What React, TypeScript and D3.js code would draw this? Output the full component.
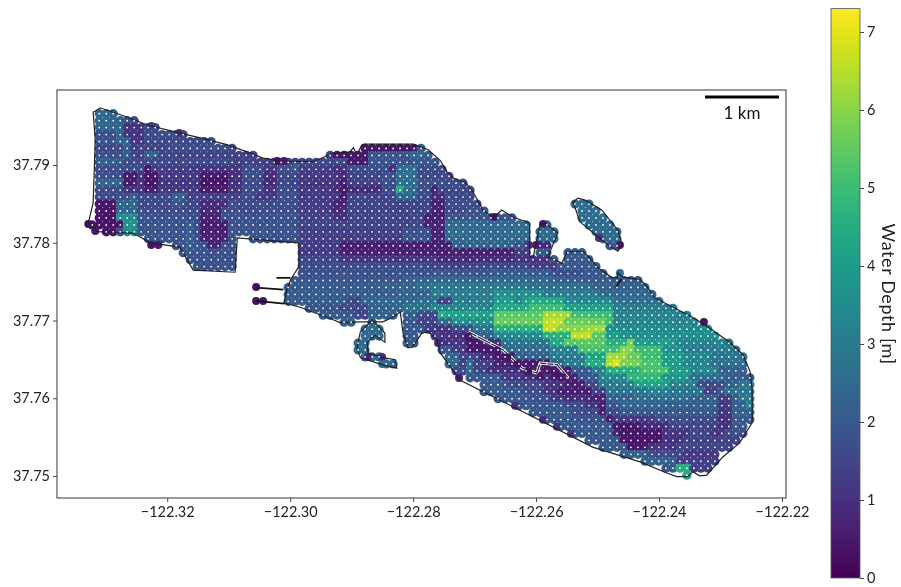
// App.tsx - water depth map with soundings grid and colorbar
import React, { useEffect, useRef } from 'react'
import * as d3 from 'd3'

const lonTicks = [-122.32, -122.30, -122.28, -122.26, -122.24, -122.22]
const latTicks = [37.75, 37.76, 37.77, 37.78, 37.79]
const depthTicks = [0, 1, 2, 3, 4, 5, 6, 7]
const maxDepth = 7.3

// sounding grid, about 100 m spacing
const gridLon0 = -122.33106
const gridLat0 = 37.7966
const gridDLon = 0.001138
const gridDLat = 0.000894
// the table below and the shorelines share a slightly different origin
const tableLon0 = -122.33171
const tableLat0 = 37.79682
const tableDLat = 0.0009
const colShift = 0.57

// one row per grid line going south: [startCol, depth, startCol, depth, ..., endCol]
const depthRows: number[][] = [
  [0, 2.4, 5],
  [0, 2.4, 3, 2.3, 4, 1.8, 10],
  [0, 2.4, 4, 1.1, 7, 1.7, 12],
  [0, 1.8, 3, 2.4, 4, 1.1, 7, 1.7, 14, 1.6, 16],
  [0, 1.8, 3, 2.4, 5, 1.1, 7, 1.6, 18],
  [0, 1.6, 4, 2.2, 5, 1.3, 6, 1.5, 10, 1.7, 38, 0.4, 46.5, 2, 50],
  [0, 1.7, 4, 2.3, 5, 1.5, 6, 1.2, 7, 2.3, 9, 1.5, 13, 1.4, 34, 0.4, 38.6, 1.9, 45, 2.5, 47, 2, 50],
  [0, 2.2, 4, 1.6, 20, 1.4, 28, 1.6, 36, 0.5, 39, 1.9, 49, 2, 52],
  [0, 1.7, 7, 0.5, 8, 1.3, 14, 1.1, 21, 1.7, 24, 1.2, 26, 1.7, 28, 2.1, 29, 1.3, 34, 1, 36, 1.7, 42, 0.9, 43, 2.6, 46, 1.7, 50],
  [0, 1.7, 4, 0.5, 6, 1.1, 7, 0.4, 9, 1.2, 15, 0.5, 19, 1, 21, 1.7, 24, 0.9, 26, 1.6, 29, 1.2, 34, 1.1, 35, 0.8, 36, 1.5, 41, 1.8, 43, 2.6, 46, 1.6, 52],
  [0, 2.4, 4, 0.5, 6, 1.1, 7, 0.4, 9, 1.1, 15, 0.4, 19, 1, 21, 1.6, 24, 0.8, 26, 1.5, 29, 1.1, 35, 0.6, 36, 1.4, 41, 1.7, 43, 2.6, 46, 1.7, 54],
  [0, 1.6, 4, 1.1, 7, 0.6, 9, 1.2, 15, 0.6, 19, 1.1, 21, 1.7, 24, 1.1, 26, 1.7, 29, 1.2, 34, 0.9, 35, 0.5, 36, 0.9, 41, 1.7, 43, 4.6, 44, 2.6, 46, 1.7, 48, 0.7, 49, 1.6, 55],
  [0, 1.7, 5, 2.3, 6, 1.6, 11, 2.3, 13, 1.4, 21, 1.7, 23, 1.2, 26, 1.8, 29, 1.2, 35, 0.6, 36, 1.5, 43, 2.4, 46, 1.7, 48, 0.9, 50, 1.6, 57],
  [0, 0.45, 3, 2.4, 6, 1.6, 11, 1.9, 13, 1.6, 15, 0.9, 19, 1.7, 29, 1.3, 34, 0.7, 36, 1.5, 48, 0.7, 50, 1.7, 60, 2.6, 76],
  [0, 0.4, 3, 2.4, 6, 1.7, 15, 0.8, 18.5, 1.7, 29, 1.3, 34, 0.8, 36, 1.5, 48, 0.7, 50, 1.6, 53, 1.9, 62, 2.6, 76],
  [0, 0.4, 3, 3.6, 6, 1.8, 15, 0.7, 18.5, 1.8, 29, 1.4, 34, 1, 36, 1.5, 47, 0.6, 50, 1.9, 64, 2.6, 76],
  [-1, 0.4, 4, 3.8, 6, 1.8, 13, 2.2, 14, 1.7, 15, 0.6, 19, 1.8, 29, 1.5, 47, 0.7, 50, 2.5, 76],
  [0, 0.45, 3, 1.8, 4, 3.6, 6, 1.9, 13, 2.2, 14, 1.7, 15, 0.6, 19, 1.9, 29, 1.4, 44, 1.8, 48, 0.7, 50, 2.5, 76],
  [0, 1.9, 13, 2.2, 14, 1.8, 15, 0.7, 19, 1.8, 29, 1.3, 44, 1.9, 48, 0.7, 50, 2.5, 76],
  [0, 1.9, 13, 2.2, 14, 1.9, 16, 0.7, 18.5, 1.8, 29, 1.3, 35, 0.6, 51, 2.3, 60, 1.9, 62, 0.8, 65, 2, 76],
  [0, 1.9, 16, 1.8, 29, 1.2, 35, 0.6, 60, 1.3, 62, 2.1, 70],
  [0, 1.8, 29, 1.5, 35, 1.1, 49, 0.9, 60, 1.1, 65, 2, 72],
  [0, 1.8, 29, 1.7, 48, 1.4, 54, 1.6, 62, 1.3, 66, 2, 74],
  [29, 1.8, 48, 1.9, 56, 2.1, 65, 1.7, 70, 2, 76],
  [27, 1.9, 44, 2.2, 48, 2.4, 65, 2.1, 70, 2, 78],
  [27, 2, 41, 2.3, 46, 2.6, 48, 2.9, 62, 2.6, 71, 2.2, 80],
  [27, 2.1, 43, 2.3, 48, 3, 57.5, 3.6, 64, 3, 72, 2.4, 84],
  [27, 2.1, 36, 1.5, 38, 2.4, 46, 2.7, 49, 1.5, 51, 3, 57.5, 4, 60, 3.2, 61, 4.1, 62, 4.4, 67, 3.4, 74, 2.6, 86],
  [27, 1.9, 35, 1.6, 39, 2.3, 44, 2.8, 48, 3.4, 57, 4.4, 62, 5, 67, 4.2, 74, 3, 90],
  [30, 2, 37, 1.5, 39, 2.2, 46, 1.6, 49, 4.6, 50, 4.2, 57, 5.4, 64, 6.3, 68, 5, 74, 3.2, 90],
  [35, 2.3, 44, 2, 46, 1.4, 49, 2.5, 51, 3.6, 57, 5.6, 64.5, 6.6, 67.5, 5.6, 73, 5, 74, 3.3, 92],
  [37, 2.5, 44, 2, 47, 1.2, 49, 1.1, 51, 1.7, 54, 2.8, 57, 4.6, 64, 6.6, 66, 6, 70, 6.2, 73, 3.5, 93],
  [37, 2.5, 44, 2, 47, 1.3, 49, 1.1, 54, 2.2, 57.5, 3.4, 64, 4.6, 68.5, 6.6, 71, 5.4, 73, 4, 75.5, 3.6, 94],
  [37, 2.5, 44, 2, 48, 1.2, 49, 1.1, 53, 0.5, 55, 0.9, 58, 2.8, 65.5, 4.4, 67, 5.4, 73, 4.6, 76, 5.8, 77, 4, 83, 3.2, 90, 2.8, 94],
  [37, 2.5, 45, 2, 51.5, 1.3, 53, 0.5, 58, 2.5, 65.5, 3.2, 69, 5.2, 72.6, 5, 75.5, 6, 77, 5, 80.7, 3.6, 83.6, 3, 91, 2.8, 94],
  [37, 2.5, 49, 2.4, 52, 1.5, 55, 0.9, 57.5, 0.5, 60, 2.2, 65, 3, 70.5, 4.2, 72.6, 6.3, 76, 5.6, 78.3, 5, 80.7, 4, 83.6, 3.4, 88, 2.8, 94],
  [40, 2.5, 50.5, 2.5, 52, 1.3, 53.5, 2.6, 54.5, 1.4, 57, 0.7, 60, 0.5, 65, 2.2, 67, 3, 70.3, 4.5, 73, 6.5, 74.5, 7, 75.5, 5.8, 78.3, 5.2, 80.7, 4, 83.6, 3.2, 88, 2.6, 94],
  [51, 1.6, 53, 2.6, 54.5, 1.5, 56.5, 1, 61, 0.6, 68, 2, 71, 3, 72.6, 4.6, 78, 5.2, 81.7, 4, 85.5, 3.4, 89.3, 2.2, 94],
  [53, 2, 58, 1.3, 60.7, 1, 65.5, 0.7, 69.5, 2, 71.7, 3.4, 76.5, 4.8, 81.2, 3.8, 85.5, 2.6, 90.5, 2, 94],
  [55, 2, 59, 1.6, 63.6, 1.1, 67, 0.6, 70, 1.6, 71.7, 3, 77.4, 4.2, 81.7, 3.2, 86.5, 1.6, 90.3, 2.2, 91.7, 2.9, 94],
  [55, 2, 61, 1.7, 64.5, 1.1, 66.4, 0.6, 71, 1.4, 72.6, 2.8, 79, 3.2, 82, 2.8, 87, 1.4, 89.3, 2, 90.3, 2.8, 94],
  [57, 2, 62, 1.8, 65.5, 1.2, 67.4, 0.9, 71, 0.7, 72.6, 2.2, 77.4, 2.6, 85.5, 2.2, 89.3, 1.3, 90.7, 2, 92, 3, 94],
  [60, 2, 67.4, 1.7, 70, 1.1, 71.7, 0.6, 72.6, 2, 75, 2.4, 80.7, 2.2, 89.3, 1.2, 90.7, 2.2, 92.6, 3.4, 94],
  [62, 2, 68.5, 1.7, 72, 0.6, 73, 1.6, 75.5, 2, 89.3, 1.1, 91, 2.2, 94],
  [64, 2, 68, 1.8, 72.6, 0.6, 74, 1.2, 80, 1.7, 89.3, 1, 90.7, 2, 94],
  [66, 2, 73.6, 0.5, 78, 0.9, 81.7, 1.5, 88.8, 1, 90.7, 2, 94],
  [68, 2, 73.6, 0.7, 75.5, 0.45, 81.2, 1.1, 85.5, 1.5, 88.3, 1.1, 90.3, 1.7, 94],
  [70, 2, 75.5, 0.4, 81.2, 1, 84.5, 1.4, 92],
  [72, 2, 76, 0.5, 79, 1.1, 83, 1.5, 91],
  [75, 2.2, 79.3, 1.6, 84.5, 1.2, 89],
  [77, 2.3, 83, 1.3, 85.5, 1.4, 89, 0.9, 90],
  [81, 2, 83.5, 4.6, 85, 1.4, 88],
  [84, 4.4, 85]
]

// soundings that sit on the shore, off the regular grid
const shoreCols = [-1, 0, 8, 9, 23, 23, 24, 26, 27, 8, 12, 57, 64, 63, 62, 75, 72, 75, 87, 39, 41, 41, 52, 49, 60, 64, 66, 68,
  53.3, 54, 55, 56, 57.4, 58.9, 60.3, 61.9, 63.6, 64.7, 65.7, 66.7]
const shoreRows = [16, 17, 19, 19, 25, 27, 27, 7, 7, 2, 3, 15, 16, 19, 19, 19, 18, 23, 30, 35, 35, 36, 38, 33, 42, 44, 45, 46,
  32.1, 32.9, 33.4, 33.9, 34.1, 35.1, 36.1, 37.1, 37.8, 36.8, 37.5, 37.9]
const shoreDepths = [0.3, 0.5, 0.4, 0.5, 0.3, 0.3, 0.5, 0.3, 0.5, 1.2, 1, 0.4, 0.4, 0.5, 1, 0.5, 1, 2.6, 0.4, 0.7, 0.8, 2.6, 0.6, 0.8, 1, 1, 1.1, 1.1,
  0.45, 0.45, 0.45, 0.45, 0.45, 0.45, 0.45, 0.45, 0.45, 0.45, 0.45, 0.45]

// shorelines in table units [col, row]
const mainShore: [number, number][] = [
  [-0.3, 0], [0, -0.1], [0.7, -0.6], [3.6, 0.4], [7.6, 1.9], [11.7, 2.9], [15, 3.7], [18.9, 4.7], [21.7, 5.7], [24, 6.6], [26.4, 7], [31.1, 7.1],
  [34, 5.9], [36.4, 5.7], [36.9, 5.1], [37.4, 6.1], [38.1, 4.7], [38.4, 4.6], [45.4, 4.6], [47.6, 5.4], [49.3, 6.9], [50.3, 8.6], [51.1, 9.4], [52.9, 10.1],
  [54, 11.4], [55.4, 14], [56.9, 15.1], [58.1, 14], [59.7, 15], [62.1, 15.9], [62.1, 20.7], [62.6, 20.7], [63.6, 16.1], [64.3, 15.9], [66.1, 17.3], [64.7, 20.7],
  [66.7, 21.6], [67.4, 20], [69.7, 19.9], [70.7, 20.9], [71.9, 22.3], [73.9, 23.7], [74.6, 23.7], [74.7, 23], [75.4, 23.6], [77.9, 24], [78.9, 25], [80, 26.6],
  [82.6, 27.9], [85.3, 29.3], [87.1, 30.4], [90.7, 32.9], [92.6, 34.7], [93.6, 37.1], [93.9, 39.7], [93.9, 44.4], [92.1, 47.3], [89.7, 49.3], [87.4, 51.9],
  [86.4, 52], [85.4, 51.4], [84.7, 52.1], [83.1, 52.1], [81.7, 51.6], [77.9, 50], [71.1, 47.9], [59.3, 41.9], [52.1, 38.3], [49.3, 34.4], [48.9, 32.6],
  [47.6, 31.4], [46.7, 31.6], [45.3, 33.6], [44.7, 33.7], [44, 31.6], [43.6, 28.6], [42.4, 29.4], [41.1, 30], [37.9, 30], [35, 30.1], [34, 29.7], [29.3, 27.9],
  [27, 27.3], [27.4, 25.4], [27.9, 24], [29.1, 22.1], [29.1, 18.7], [20.3, 18], [20, 22.9], [14, 22.6], [12.1, 19.3], [7.9, 18.7], [5.4, 17.3], [0.3, 17.1],
  [-1, 15.9], [-0.3, 13], [0, 4]
]
const hookShore: [number, number][] = [
  [39.6, 29.7], [41.4, 31.6], [41.4, 32.9], [40, 31.9], [38.9, 32.9], [39, 34.4], [41.1, 35.1], [42.9, 35.4], [43.1, 36.6], [41, 36.1], [37.9, 35.1], [37.4, 33.7], [37.9, 31.4]
]
const islandShore: [number, number][] = [
  [68.3, 12.9], [69, 12.3], [70, 12.6], [72.4, 14], [74.7, 16.9], [75.3, 19], [74.7, 19.9], [73.3, 19], [69.3, 15.7]
]
const innerShore: [number, number][] = [
  [53.3, 31.4], [58.3, 34], [61, 36.6], [63.1, 37.3], [63.6, 35.9], [66, 36.1], [67.6, 38]
]
const spurs: [number, number][][] = [
  [[25.9, 23.7], [27.9, 23.7]],
  [[23, 25.1], [26.9, 25.4]],
  [[23, 27], [27, 27.4]],
  [[74.4, 25.1], [75.2, 23.9]]
]

function App () {
  const ref = useRef<SVGSVGElement>(null)

  useEffect(() => {
    const svg = d3.select(ref.current)
    svg.selectAll('*').remove()

    const font = 'Lato, "Noto Sans", sans-serif'
    const x = d3.scaleLinear().domain([-122.33793, -122.21935]).range([57, 786])
    const y = d3.scaleLinear().domain([37.74717, 37.79965]).range([498, 90])
    const color = (d: number) => d3.interpolateViridis(d / maxDepth)
    // table units, used by the shorelines and the shore soundings
    const tx = (c: number) => x(tableLon0 + c * gridDLon)
    const ty = (r: number) => y(tableLat0 - r * tableDLat)

    // frame
    svg.append('rect')
      .attr('x', 57).attr('y', 90).attr('width', 729).attr('height', 408)
      .attr('fill', 'none').attr('stroke', '#555').attr('stroke-width', 1.2)

    const pixelShore = (p: [number, number][]) => p.map(d => [tx(d[0]), ty(d[1])] as [number, number])
    const water = [mainShore, hookShore, islandShore].map(pixelShore)

    // expand the depth runs into grid points, keep the ones in the water
    const points: { x: number, y: number, d: number }[] = []
    depthRows.forEach((runs, r) => {
      const py = y(gridLat0 - r * gridDLat)
      for (let i = 0; i + 2 < runs.length; i += 2) {
        for (let c = Math.ceil(runs[i] - colShift); c + colShift < runs[i + 2]; c++) {
          const px = x(gridLon0 + c * gridDLon)
          if (water.some(p => d3.polygonContains(p, [px, py]))) points.push({ x: px, y: py, d: runs[i + 1] })
        }
      }
    })
    const shorePoints = shoreCols.map((c, i) => ({ x: tx(c), y: ty(shoreRows[i]), d: shoreDepths[i] }))

    svg.append('g').selectAll('circle')
      .data(points)
      .enter()
      .append('circle')
      .attr('cx', d => d.x)
      .attr('cy', d => d.y)
      .attr('r', 4.6)
      .attr('fill', d => color(d.d))

    const line = d3.line<[number, number]>().x(d => tx(d[0])).y(d => ty(d[1]))

    svg.append('path')
      .attr('d', line(innerShore))
      .attr('fill', 'none').attr('stroke', '#fff').attr('stroke-width', 3)

    svg.append('g').selectAll('circle')
      .data(shorePoints)
      .enter()
      .append('circle')
      .attr('cx', d => d.x)
      .attr('cy', d => d.y)
      .attr('r', 4)
      .attr('fill', d => color(d.d))

    // shorelines
    ;[mainShore, hookShore, islandShore].forEach(p => {
      svg.append('path')
        .attr('d', line(p) + 'Z')
        .attr('fill', 'none').attr('stroke', '#222').attr('stroke-width', 1.2)
    })
    svg.append('path')
      .attr('d', line(innerShore))
      .attr('fill', 'none').attr('stroke', '#222').attr('stroke-width', 1.2)
    spurs.forEach(p => {
      svg.append('path')
        .attr('d', line(p))
        .attr('fill', 'none').attr('stroke', '#111').attr('stroke-width', 1.8)
    })

    // white sample markers, only on the regular grid
    svg.append('g').selectAll('circle')
      .data(points)
      .enter()
      .append('circle')
      .attr('cx', d => d.x)
      .attr('cy', d => d.y)
      .attr('r', 0.9)
      .attr('fill', '#fff')

    // axes
    const xAxis = svg.append('g')
      .attr('transform', 'translate(0,498)')
      .call(d3.axisBottom(x).tickValues(lonTicks).tickFormat(d3.format('.2f') as any).tickSize(4).tickSizeOuter(0))
    const yAxis = svg.append('g')
      .attr('transform', 'translate(57,0)')
      .call(d3.axisLeft(y).tickValues(latTicks).tickFormat(d3.format('.2f') as any).tickSize(4).tickSizeOuter(0))
    ;[xAxis, yAxis].forEach(a => {
      a.select('.domain').remove()
      a.selectAll('line').attr('stroke', '#444')
      a.selectAll('text').attr('font-family', font).attr('font-size', 14.5).attr('fill', '#222')
    })
    xAxis.selectAll('text').attr('dy', '0.85em')

    // scale bar
    svg.append('line')
      .attr('x1', 705).attr('x2', 779).attr('y1', 97).attr('y2', 97)
      .attr('stroke', '#000').attr('stroke-width', 3)
    svg.append('text')
      .attr('x', 742).attr('y', 119)
      .attr('text-anchor', 'middle')
      .attr('font-family', font).attr('font-size', 17).attr('fill', '#111')
      .text('1 km')

    // colorbar
    const cy = d3.scaleLinear().domain([0, maxDepth]).range([578, 8.6])
    const grad = svg.append('defs').append('linearGradient')
      .attr('id', 'depth-grad')
      .attr('x1', 0).attr('x2', 0).attr('y1', 1).attr('y2', 0)
    d3.range(0, 1.001, 0.05).forEach(t => {
      grad.append('stop').attr('offset', t).attr('stop-color', d3.interpolateViridis(t))
    })
    svg.append('rect')
      .attr('x', 831).attr('y', 8.6).attr('width', 29).attr('height', 569.4)
      .attr('fill', 'url(#depth-grad)').attr('stroke', '#555').attr('stroke-width', 0.8)
    const cAxis = svg.append('g')
      .attr('transform', 'translate(860,0)')
      .call(d3.axisRight(cy).tickValues(depthTicks).tickFormat(d3.format('d') as any).tickSize(4).tickSizeOuter(0))
    cAxis.select('.domain').remove()
    cAxis.selectAll('line').attr('stroke', '#444')
    cAxis.selectAll('text').attr('font-family', font).attr('font-size', 14.5).attr('fill', '#222')

    svg.append('text')
      .attr('transform', 'translate(882,294) rotate(90)')
      .attr('text-anchor', 'middle')
      .attr('font-family', font).attr('font-size', 18).attr('letter-spacing', 0.6).attr('fill', '#222')
      .text('Water Depth [m]')
  }, [])

  return (
    <svg
      ref={ref}
      width={901}
      height={587}
      style={{ position: 'absolute', left: 0, top: 0, background: '#fff', filter: 'blur(0.5px)' }}
    />
  )
}

export default App
